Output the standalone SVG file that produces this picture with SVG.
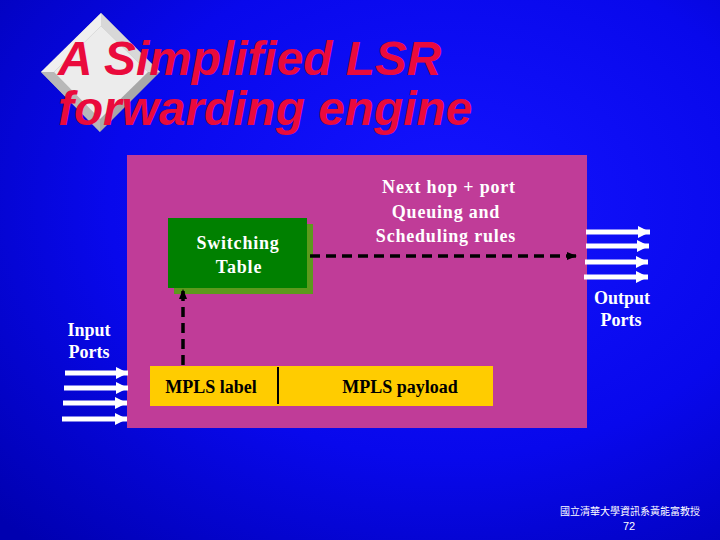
<svg xmlns="http://www.w3.org/2000/svg" width="720" height="540" viewBox="0 0 720 540">
<defs>
<radialGradient id="bg" cx="0.62" cy="0.38" r="0.85">
<stop offset="0" stop-color="#1414ff"/>
<stop offset="0.55" stop-color="#0808ec"/>
<stop offset="1" stop-color="#0000b0"/>
</radialGradient>
<marker id="blk" viewBox="0 0 10 10" refX="9" refY="5" markerWidth="3" markerHeight="3" orient="auto" markerUnits="strokeWidth">
<path d="M0,1 L10,5 L0,9 Z" fill="#000"/>
</marker>
<marker id="wht" viewBox="0 0 10 10" refX="10" refY="5" markerWidth="2.4" markerHeight="2.4" orient="auto" markerUnits="strokeWidth">
<path d="M0,0 L10,5 L0,10 Z" fill="#fff"/>
</marker>
</defs>
<style>
.t{font-family:"Liberation Serif","Times New Roman",serif;font-weight:bold;font-size:18px;text-anchor:middle}
.sp{letter-spacing:0.8px}
.w{fill:#fff}
.k{fill:#000}
.port{stroke:#fff;stroke-width:5;marker-end:url(#wht)}
.dash{stroke:#000;stroke-width:3.5;stroke-dasharray:10,6;fill:none;marker-end:url(#blk)}
</style>
<rect width="720" height="540" fill="url(#bg)"/>
<g id="logo">
<polygon points="101,13 160,72 100,132 41,72" fill="#a8a8a8"/>
<polygon points="101,13 160,72 148,72 101,26" fill="#d8d8d8"/>
<polygon points="101,13 41,72 54,72 101,26" fill="#f0f0f0"/>
<polygon points="41,72 100,132 100,119 54,72" fill="#b8b8b8"/>
<polygon points="101,26 148,72 100,119 54,72" fill="#ececec"/>
</g>
<g id="title" font-family="'Liberation Sans',Arial,sans-serif" font-weight="bold" font-style="italic" font-size="47.8" fill="#ea0a3c">
<text x="58" y="75">A Simplified LSR</text>
<text x="58" y="125">forwarding engine</text>
</g>
<g id="engine">
<rect x="127" y="155" width="460" height="273" fill="#c03c98"/>
</g>
<g id="switching-table">
<rect x="174" y="224" width="139" height="70" fill="#5c9a1c"/>
<rect x="168" y="218" width="139" height="70" fill="#008000"/>
<text class="t w sp" x="238" y="249">Switching</text>
<text class="t w sp" x="239" y="273">Table</text>
</g>
<g id="next-hop-label">
<text class="t w sp" x="449" y="193">Next hop + port</text>
<text class="t w sp" x="446" y="218">Queuing and</text>
<text class="t w sp" x="446" y="242">Scheduling rules</text>
</g>
<g id="packet">
<rect x="150" y="366" width="343" height="40" fill="#ffcc00"/>
<line x1="278" y1="367" x2="278" y2="404" stroke="#000" stroke-width="2"/>
<text class="t k" x="211" y="393">MPLS label</text>
<text class="t k" x="400" y="393">MPLS payload</text>
</g>
<g id="input-ports">
<text class="t w" x="89" y="336">Input</text>
<text class="t w" x="89" y="358">Ports</text>
</g>
<g id="output-ports">
<text class="t w" x="622" y="304">Output</text>
<text class="t w" x="621" y="326">Ports</text>
</g>
<g id="connectors">
<line class="dash" x1="310" y1="256" x2="576" y2="256"/>
<line class="dash" x1="183" y1="365" x2="183" y2="290"/>
<line class="port" x1="586" y1="232" x2="650" y2="232"/>
<line class="port" x1="586" y1="246" x2="649" y2="246"/>
<line class="port" x1="585" y1="262" x2="648" y2="262"/>
<line class="port" x1="584" y1="277" x2="648" y2="277"/>
<line class="port" x1="65" y1="373" x2="128" y2="373"/>
<line class="port" x1="64" y1="388" x2="128" y2="388"/>
<line class="port" x1="63" y1="403" x2="127" y2="403"/>
<line class="port" x1="62" y1="419" x2="127" y2="419"/>
</g>
<g id="footer" fill="#fff" text-anchor="middle">
<text x="630" y="515" font-family="'Noto Sans CJK TC','Noto Sans CJK SC',sans-serif" font-size="10">國立清華大學資訊系黃能富教授</text>
<text x="629" y="530" font-family="'Liberation Sans',Arial,sans-serif" font-size="11">72</text>
</g>
</svg>
